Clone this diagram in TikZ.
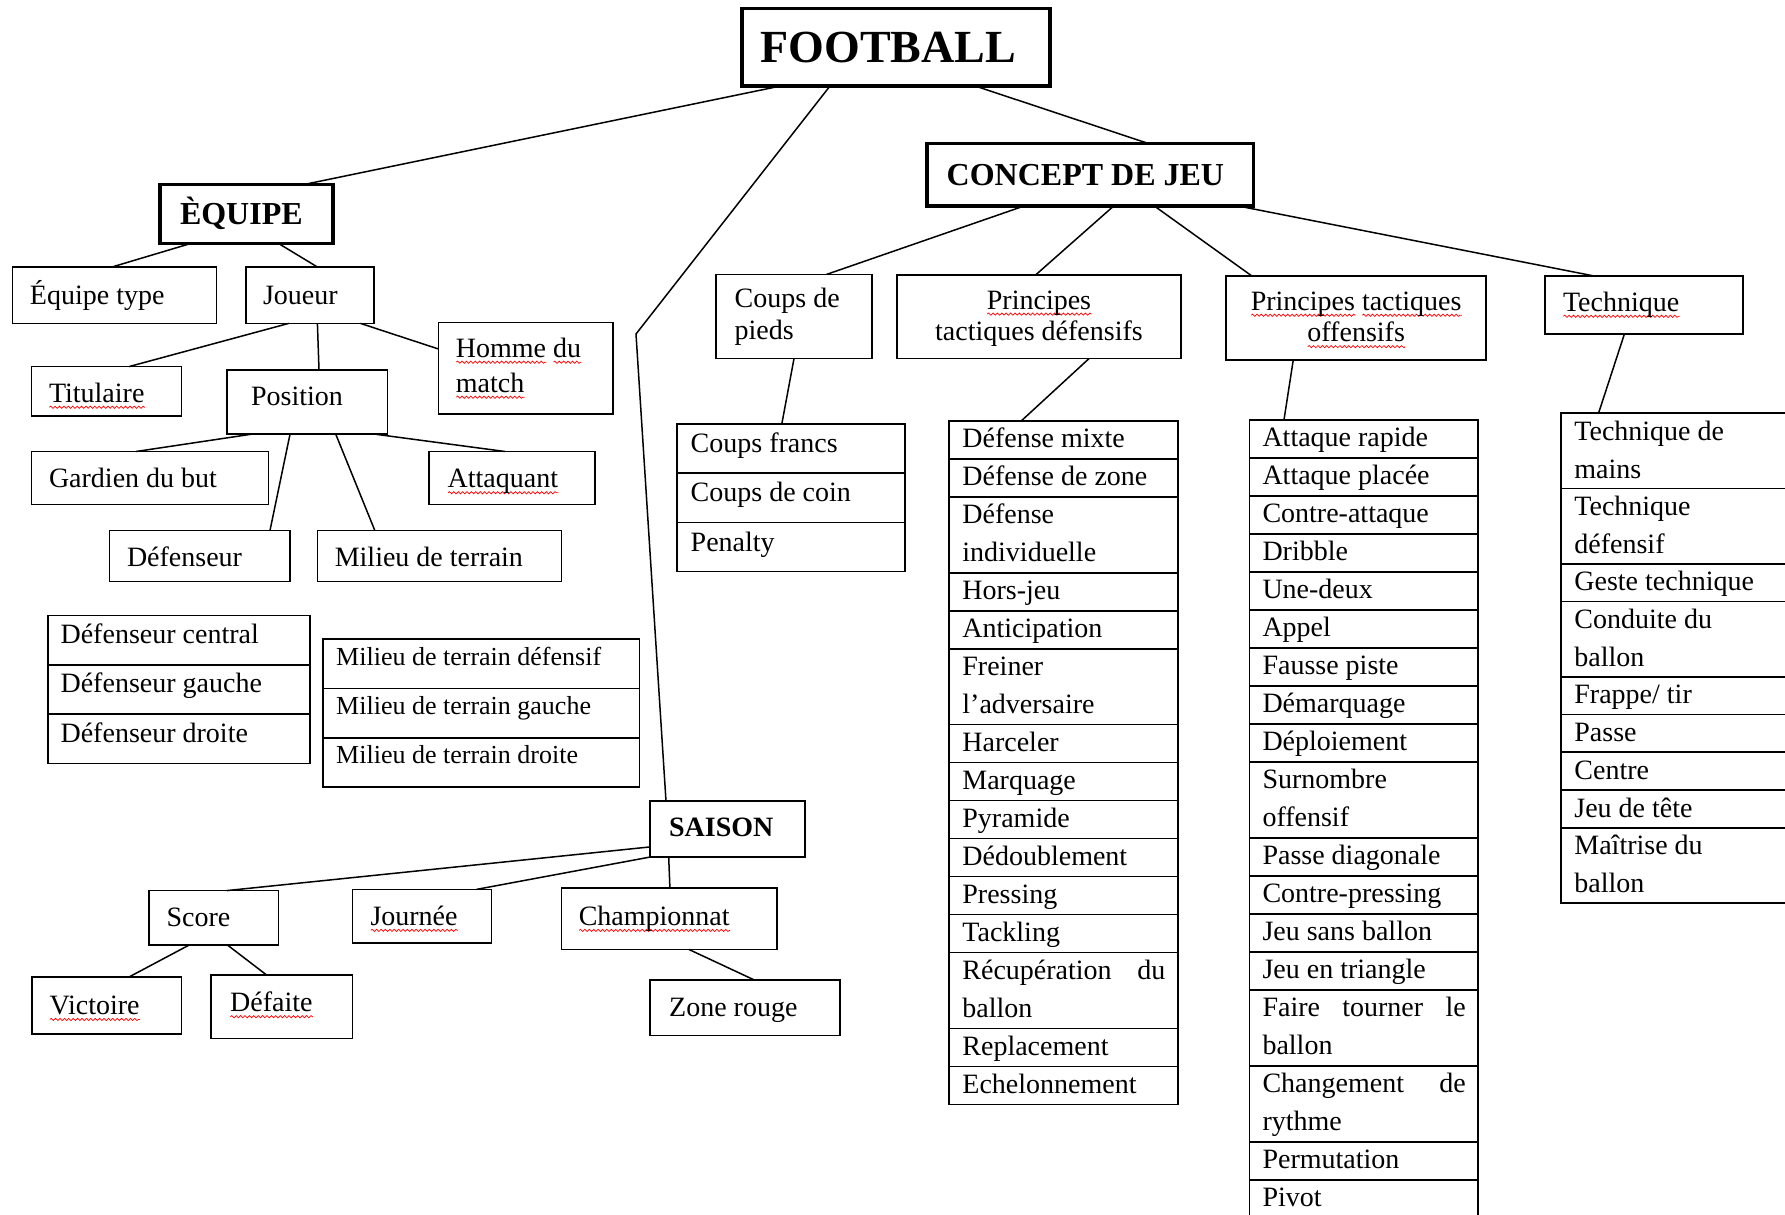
\documentclass[tikz,border=0pt]{standalone}
\usepackage{fontspec}
\setmainfont{Liberation Serif}
\usetikzlibrary{calc,decorations.pathmorphing}
\newcommand\rw[1]{\setbox0\hbox{#1}\leavevmode\rlap{\tikz[baseline=0pt,x=1pt,y=1pt]\draw[red,line width=0.35pt,decorate,decoration={snake,amplitude=0.55pt,segment length=2.2pt}] (0,-2.4) -- (\the\wd0,-2.4);}\box0\relax}
\newcommand\sr{\strut}
\newcommand\bx[6][]{%
  \pgfmathsetmacro\bxw{(#5-#3)*0.5}%
  \pgfmathsetmacro\bxh{(#6-#4)*0.5}%
  \pgfmathsetmacro\bxcx{(#3+#5)/2}%
  \pgfmathsetmacro\bxcy{(#4+#6)/2}%
  \node[box,minimum width=\bxw pt,minimum height=\bxh pt,#1] (#2) at (\bxcx,\bxcy) {};}
\newcommand\startlist[6]{\def\lx{#1}\def\rx{#2}\xdef\cury{#3}\def\lu{#4}\def\lpad{#5}\def\ldy{#6}}
\newcommand\lrow[4][]{%
  \pgfmathsetmacro\nexty{\cury+#3*\lu}%
  \bx{#2}{\lx}{\cury}{\rx}{\nexty}%
  \node[cellt,#1] (#2-t) at ($(#2.north west)+(\lpad,\ldy)$) {#4};%
  \xdef\cury{\nexty}}
\tikzset{
 box/.style={draw,line width=0.85pt,inner sep=0pt,outer sep=0pt},
 thickbox/.style={line width=1.9pt},
 lbl/.style={inner sep=0pt,align=left,font=\fontsize{14}{16.5}\selectfont},
 cellt/.style={inner sep=0pt,anchor=north west,align=left,font=\fontsize{14}{19}\selectfont},
 link/.style={line width=0.75pt},
}
\begin{document}
\begin{tikzpicture}[x=0.5pt,y=-0.5pt]
\useasboundingbox (0,0) rectangle (1785,1215);
\clip (0,0) rectangle (1785,1215);

% ---------- main boxes ----------
\bx[thickbox]{footb}{742}{8.5}{1050}{86}
\node[lbl,anchor=base west,font=\fontsize{23}{27}\selectfont\bfseries] (footb-t) at ($(footb.west)+(18,15.2)$) {FOOTBALL};
\bx[thickbox]{equipe}{159.6}{184.5}{333}{243.4}
\node[lbl,anchor=base west,font=\fontsize{16}{19}\selectfont\bfseries] (equipe-t) at ($(equipe.west)+(20,10.6)$) {ÈQUIPE};
\bx[thickbox]{cdj}{927.3}{143.5}{1253.4}{205.9}
\node[lbl,anchor=base west,font=\fontsize{16}{19}\selectfont\bfseries] (cdj-t) at ($(cdj.west)+(19,10.6)$) {CONCEPT DE JEU};
\bx[line width=1.1pt]{saison}{650.3}{801.1}{804.8}{857}
\node[lbl,anchor=base west,font=\fontsize{14}{17}\selectfont\bfseries] (saison-t) at ($(saison.west)+(18.4,7.5)$) {SAISON};

% ---------- EQUIPE branch ----------
\bx{eqtype}{12.6}{267}{216.4}{323.4}
\node[lbl,anchor=base west] (eqtype-t) at ($(eqtype.west)+(17,9.2)$) {Équipe type};
\bx{joueur}{245.7}{267}{374.2}{323.4}
\node[lbl,anchor=base west] (joueur-t) at ($(joueur.west)+(17,9.2)$) {Joueur};
\bx{titul}{31.6}{366.6}{181.4}{416.3}
\node[lbl,anchor=base west] (titul-t) at ($(titul.west)+(17,11)$) {\rw{Titulaire}};
\bx{position}{226.7}{369.7}{387.4}{434.3}
\node[lbl,anchor=base west] (position-t) at ($(position.west)+(24,3.5)$) {Position};
\bx{homme}{438.5}{322.6}{613}{414}
\node[lbl,anchor=west,font=\fontsize{14}{17.5}\selectfont] (homme-t) at ($(homme.west)+(17,0)$) {\rw{Homme} \rw{du}\\\rw{match}};
\bx{gardien}{31.6}{451.5}{268.6}{504.4}
\node[lbl,anchor=base west] (gardien-t) at ($(gardien.west)+(17,10)$) {Gardien du but};
\bx{attaq}{429.3}{451.5}{595.2}{504.4}
\node[lbl,anchor=base west] (attaq-t) at ($(attaq.west)+(18,10)$) {\rw{Attaquant}};
\bx{defens}{109.6}{530.4}{289.9}{581.6}
\node[lbl,anchor=base west] (defens-t) at ($(defens.west)+(17,10)$) {Défenseur};
\bx{milieu}{317.4}{530.4}{561.4}{581.6}
\node[lbl,anchor=base west] (milieu-t) at ($(milieu.west)+(17,10)$) {Milieu de terrain};

% Defenseur list
\startlist{48.2}{310}{615.6}{49.3}{12}{1}
\lrow{dc1}{1}{\sr Défenseur central}
\lrow{dc2}{1}{\sr Défenseur gauche}
\lrow{dc3}{1}{\sr Défenseur droite}
% Milieu list
\startlist{323.2}{639.4}{639.1}{49.3}{12.6}{-1}
\lrow[font=\fontsize{13}{19}\selectfont]{mc1}{1}{\sr Milieu de terrain défensif}
\lrow[font=\fontsize{13}{19}\selectfont]{mc2}{1}{\sr Milieu de terrain gauche}
\lrow[font=\fontsize{13}{19}\selectfont]{mc3}{1}{\sr Milieu de terrain droite}

% ---------- SAISON branch ----------
\bx{score}{149.2}{890.6}{278.4}{944.9}
\node[lbl,anchor=base west] (score-t) at ($(score.west)+(17,9.2)$) {Score};
\bx{journee}{352.4}{889.4}{491.4}{943.3}
\node[lbl,anchor=base west] (journee-t) at ($(journee.west)+(17.7,9.2)$) {\rw{Journée}};
\bx{champ}{561.4}{887.8}{776.7}{949.4}
\node[lbl,anchor=base west] (champ-t) at ($(champ.west)+(17,7)$) {\rw{Championnat}};
\bx{victoire}{32.1}{976.9}{181.4}{1034}
\node[lbl,anchor=base west] (victoire-t) at ($(victoire.west)+(17,9.2)$) {\rw{Victoire}};
\bx{defaite}{210.7}{975.3}{352.4}{1038.5}
\node[lbl,anchor=base west] (defaite-t) at ($(defaite.west)+(19,5)$) {\rw{Défaite}};
\bx{zone}{650.3}{979.7}{839.8}{1035.6}
\node[lbl,anchor=base west] (zone-t) at ($(zone.west)+(18.5,9.2)$) {Zone rouge};

% ---------- CONCEPT branch ----------
\bx{cdp}{716.3}{274.4}{871.9}{358.6}
\node[lbl,anchor=west,font=\fontsize{14}{16}\selectfont] (cdp-t) at ($(cdp.west)+(18,0)$) {Coups de\\pieds};
\bx{ptd}{897.3}{274.8}{1180.7}{358.6}
\node[lbl,align=center,font=\fontsize{14}{15.7}\selectfont] (ptd-t) at ($(ptd.center)+(0,2)$) {\rw{Principes}\\tactiques défensifs};
\bx{pto}{1226.3}{276.3}{1486}{359.7}
\node[lbl,align=center,font=\fontsize{14}{15.7}\selectfont] (pto-t) at ($(pto.center)+(0,2)$) {\rw{Principes} \rw{tactiques}\\\rw{offensifs}};
\bx{tech}{1544.9}{276.3}{1742.9}{333.7}
\node[lbl,anchor=base west] (tech-t) at ($(tech.west)+(17.7,6.5)$) {\rw{Technique}};

% Coups francs table
\startlist{677.3}{905}{424}{49.2}{13}{1.6}
\lrow{cf1}{1}{\sr Coups francs}
\lrow{cf2}{1}{\sr Coups de coin}
\lrow{cf3}{1}{\sr Penalty}

% Defensive principles list
\startlist{949.3}{1177.8}{420.8}{37.98}{12.7}{0}
\lrow{d1}{1}{\sr Défense mixte}
\lrow{d2}{1}{\sr Défense de zone}
\lrow{d3}{2}{\sr Défense\\\sr individuelle}
\lrow{d4}{1}{\sr Hors-jeu}
\lrow{d5}{1}{\sr Anticipation}
\lrow{d6}{2}{\sr Freiner\\\sr l’adversaire}
\lrow{d7}{1}{\sr Harceler}
\lrow{d8}{1}{\sr Marquage}
\lrow{d9}{1}{\sr Pyramide}
\lrow{d10}{1}{\sr Dédoublement}
\lrow{d11}{1}{\sr Pressing}
\lrow{d12}{1}{\sr Tackling}
\lrow[text width=101.5pt]{d13}{2}{\sr Récupération\hfill du\\\sr ballon}
\lrow{d14}{1}{\sr Replacement}
\lrow{d15}{1}{\sr Echelonnement}

% Offensive principles list
\startlist{1249.4}{1478}{419.8}{38}{12.7}{0}
\lrow{o1}{1}{\sr Attaque rapide}
\lrow{o2}{1}{\sr Attaque placée}
\lrow{o3}{1}{\sr Contre-attaque}
\lrow{o4}{1}{\sr Dribble}
\lrow{o5}{1}{\sr Une-deux}
\lrow{o6}{1}{\sr Appel}
\lrow{o7}{1}{\sr Fausse piste}
\lrow{o8}{1}{\sr Démarquage}
\lrow{o9}{1}{\sr Déploiement}
\lrow{o10}{2}{\sr Surnombre\\\sr offensif}
\lrow{o11}{1}{\sr Passe diagonale}
\lrow{o12}{1}{\sr Contre-pressing}
\lrow{o13}{1}{\sr Jeu sans ballon}
\lrow{o14}{1}{\sr Jeu en triangle}
\lrow[text width=101.6pt]{o15}{2}{\sr Faire\hfill tourner\hfill le\\\sr ballon}
\lrow[text width=101.6pt]{o16}{2}{\sr Changement\hfill de\\\sr rythme}
\lrow{o17}{1}{\sr Permutation}
\lrow{o18}{1}{\sr Pivot}

% Technique list
\startlist{1561}{1800}{413}{37.7}{13}{0}
\lrow{t1}{2}{\sr Technique de\\\sr mains}
\lrow{t2}{2}{\sr Technique\\\sr défensif}
\lrow{t3}{1}{\sr Geste technique}
\lrow{t4}{2}{\sr Conduite du\\\sr ballon}
\lrow{t5}{1}{\sr Frappe/ tir}
\lrow{t6}{1}{\sr Passe}
\lrow{t7}{1}{\sr Centre}
\lrow{t8}{1}{\sr Jeu de tête}
\lrow{t9}{2}{\sr Maîtrise du\\\sr ballon}

% ---------- connectors ----------
\coordinate (kink) at (636,334);
\draw[link] ($(footb.south west)+(38.6,0)$) -- ($(equipe.north west)+(144.4,0)$);
\draw[link] ($(footb.south west)+(88,0)$) -- (kink) -- ($(saison.north west)+(15.7,0)$);
\draw[link] ($(footb.south west)+(233.2,0)$) -- ($(cdj.north west)+(221.1,0)$);
\draw[link] ($(equipe.south west)+(31.4,0)$) -- ($(eqtype.north west)+(99.4,0)$);
\draw[link] ($(equipe.south west)+(118.8,0)$) -- ($(joueur.north west)+(71.7,0)$);
\draw[link] ($(joueur.south west)+(43,0)$) -- ($(titul.north west)+(97.4,0)$);
\draw[link] ($(joueur.south west)+(71.7,0)$) -- ($(position.north west)+(92.3,0)$);
\draw[link] ($(joueur.south west)+(114.8,0)$) -- ($(homme.north west)+(0,26.4)$);
\draw[link] ($(position.south west)+(24.1,0)$) -- ($(gardien.north west)+(104.4,0)$);
\draw[link] ($(position.south west)+(149.3,0)$) -- ($(attaq.north west)+(75.7,0)$);
\draw[link] ($(position.south west)+(63.3,0)$) -- ($(defens.north west)+(160.4,0)$);
\draw[link] ($(position.south west)+(109.1,0)$) -- ($(milieu.north west)+(57.4,0)$);
\draw[link] ($(cdj.south west)+(97,0)$) -- ($(cdp.north west)+(110.3,0)$);
\draw[link] ($(cdj.south west)+(186.5,0)$) -- ($(ptd.north west)+(138.5,0)$);
\draw[link] ($(cdj.south west)+(226.9,0)$) -- ($(pto.north west)+(26,0)$);
\draw[link] ($(cdj.south west)+(310.5,0)$) -- ($(tech.north west)+(50.8,0)$);
\draw[link] ($(cdp.south west)+(77.7,0)$) -- ($(cf1.north west)+(104.5,0)$);
\draw[link] ($(ptd.south west)+(191.7,0)$) -- ($(d1.north west)+(72.1,0)$);
\draw[link] ($(pto.south west)+(67,0)$) -- ($(o1.north west)+(34.6,0)$);
\draw[link] ($(tech.south west)+(79.6,0)$) -- ($(t1.north west)+(37.6,0)$);
\draw[link] ($(saison.north west)+(0,45.8)$) -- ($(score.north west)+(77.5,0)$);
\draw[link] (saison.south west) -- ($(journee.north west)+(124,0)$);
\draw[link] ($(saison.south west)+(18.4,0)$) -- ($(champ.north west)+(108.5,0)$);
\draw[link] ($(score.south west)+(40.2,0)$) -- ($(victoire.north west)+(97.1,0)$);
\draw[link] ($(score.south west)+(78.1,0)$) -- ($(defaite.north west)+(56.3,0)$);
\draw[link] ($(champ.south west)+(127.4,0)$) -- ($(zone.north west)+(103.4,0)$);
\end{tikzpicture}
\end{document}
